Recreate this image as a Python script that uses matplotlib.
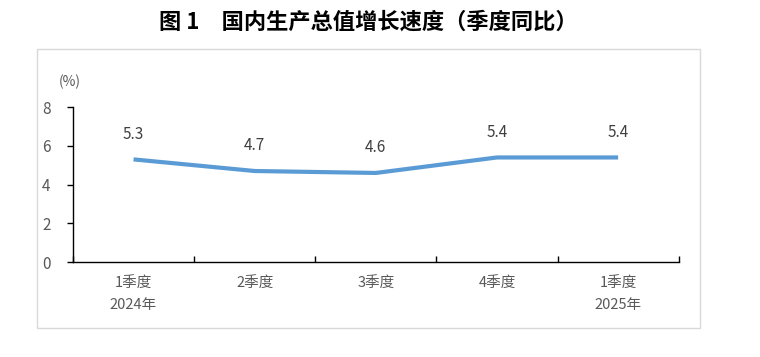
import matplotlib.pyplot as plt
from matplotlib.patches import Rectangle

plt.rcParams['font.family'] = ['Noto Sans CJK SC', 'DejaVu Sans']

# 季度 GDP 同比增速 (%)
quarters = ['1季度\n2024年', '2季度', '3季度', '4季度', '1季度\n2025年']
growth = [5.3, 4.7, 4.6, 5.4, 5.4]
yticks = [0, 2, 4, 6, 8]

line_color = '#5B9BD5'
text_color = '#595959'

fig = plt.figure(figsize=(7.6, 3.57), dpi=100)
ax = fig.add_axes([0.096, 0.266, 0.797, 0.434])

# outer light frame
fig.patches.append(Rectangle((0.0487, 0.081), 0.872, 0.781, transform=fig.transFigure,
                             fill=False, edgecolor='#D9D9D9', linewidth=1))

x = list(range(len(quarters)))
ax.plot(x, growth, color=line_color, linewidth=3, solid_capstyle='butt')
for xi, v in zip(x, growth):
    ax.annotate(f'{v:.1f}', (xi, v), xytext=(0, 12), textcoords='offset points',
                ha='center', va='bottom', fontsize=11, color='#404040')

ax.set_xlim(-0.5, len(quarters) - 0.5)
ax.set_ylim(0, 8)
ax.set_yticks(yticks)
ax.set_yticklabels([str(t) for t in yticks], fontsize=11, color=text_color)

# category labels centred, tick marks on boundaries
ax.set_xticks(x)
ax.set_xticklabels(quarters, fontsize=10.5, color=text_color, linespacing=1.6)
ax.tick_params(axis='x', which='major', length=0, pad=11)
ax.set_xticks([i + 0.5 for i in range(-1, len(quarters))], minor=True)
ax.tick_params(axis='x', which='minor', direction='in', length=4, width=1)
ax.tick_params(axis='y', direction='out', length=4, width=1, pad=12)

for side in ['top', 'right']:
    ax.spines[side].set_visible(False)
for side in ['left', 'bottom']:
    ax.spines[side].set_linewidth(1)

fig.text(0.092, 0.77, '(%)', ha='center', va='center', fontsize=10, color=text_color)
fig.text(0.485, 0.937, '图 1　国内生产总值增长速度（季度同比）', ha='center', va='center',
         fontsize=16, fontweight='bold', color='black')

fig.savefig('out.png', dpi=100)
